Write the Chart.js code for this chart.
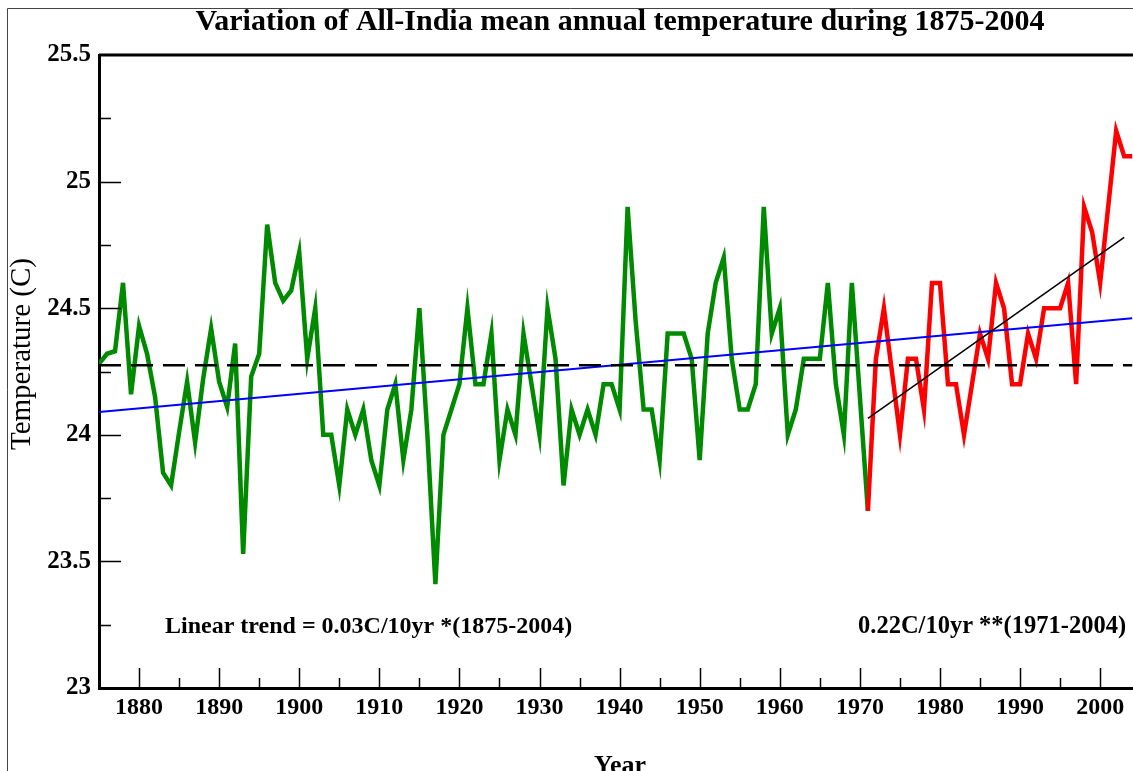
<!DOCTYPE html>
<html>
<head>
<meta charset="utf-8">
<script src="https://cdn.jsdelivr.net/npm/chart.js@4"></script>
<style>
  html, body { margin: 0; padding: 0; background: #fff; }
  canvas { display: block; }
</style>
</head>
<body>
<canvas id="tempChart" width="1133" height="771"></canvas>
<script>
// all-India mean annual temperature (C)
const firstYear = 1875;
const tempsEarly = [
  24.28, 24.32, 24.33, 24.60, 24.16, 24.43, 24.32, 24.15, 23.85, 23.80,
  24.01, 24.21, 23.97, 24.22, 24.42, 24.21, 24.11, 24.36, 23.53, 24.23,
  24.32, 24.83, 24.60, 24.53, 24.57, 24.72, 24.30, 24.50, 24.00, 24.00,
  23.80, 24.10, 24.00, 24.10, 23.90, 23.80, 24.10, 24.20, 23.90, 24.10,
  24.50, 24.00, 23.41, 24.00, 24.10, 24.20, 24.50, 24.20, 24.20, 24.40,
  23.90, 24.10, 24.00, 24.40, 24.20, 24.00, 24.50, 24.30, 23.80, 24.10,
  24.00, 24.10, 24.00, 24.20, 24.20, 24.10, 24.90, 24.45, 24.10, 24.10,
  23.90, 24.40, 24.40, 24.40, 24.30, 23.90, 24.40, 24.60, 24.70, 24.30,
  24.10, 24.10, 24.20, 24.90, 24.40, 24.50, 24.00, 24.10, 24.30, 24.30,
  24.30, 24.60, 24.20, 24.00, 24.60, 24.15, 23.70
]; // 1875-1971

const recentStart = 1971;
const tempsRecent = [
  23.70, 24.30, 24.50, 24.25, 24.00, 24.30, 24.30, 24.10, 24.60, 24.60,
  24.20, 24.20, 24.00, 24.20, 24.40, 24.30, 24.60, 24.50, 24.20, 24.20,
  24.40, 24.30, 24.50, 24.50, 24.50, 24.60, 24.20, 24.90, 24.80, 24.60,
  24.90, 25.20, 25.10, 25.10
]; // 1971-2004

const longTrendYears = [1875, 2004];
const longTrend = [24.09, 24.46];
const recentTrendYears = [1971, 2003];
const recentTrend = [24.065, 24.78];
const meanYears = [1875, 2004];
const meanTemp = 24.275;

const xTickYears = [1880, 1890, 1900, 1910, 1920, 1930, 1940, 1950, 1960, 1970, 1980, 1990, 2000];
const yTickValues = [23, 23.5, 24, 24.5, 25, 25.5];
const xMinorStep = 5;
const yMinorStep = 0.25;

const toPoints = (start, vals) => vals.map((v, i) => ({ x: start + i, y: v }));
const pairPoints = (xs, ys) => xs.map((x, i) => ({ x: x, y: ys[i] }));

const serif = "'Liberation Serif', 'DejaVu Serif', serif";

const decorations = {
  id: 'decorations',
  afterDatasetsDraw(chart) {
    const { ctx, chartArea: a, scales: { x, y } } = chart;
    ctx.save();
    ctx.strokeStyle = '#000';
    // inward tick marks
    ctx.lineWidth = 1.5;
    ctx.beginPath();
    for (let v = 1880; v <= 2000; v += xMinorStep) {
      const px = Math.round(x.getPixelForValue(v)) + 0.5;
      const len = v % 10 === 0 ? 20 : 10;
      ctx.moveTo(px, a.bottom);
      ctx.lineTo(px, a.bottom - len);
    }
    for (let v = 23 + yMinorStep; v < 25.5; v += yMinorStep) {
      const py = Math.round(y.getPixelForValue(v)) + 0.5;
      const len = Math.abs(v * 2 - Math.round(v * 2)) < 1e-6 ? 22 : 12;
      ctx.moveTo(a.left, py);
      ctx.lineTo(a.left + len, py);
    }
    ctx.stroke();
    // top frame of plot
    ctx.lineWidth = 3;
    ctx.beginPath();
    ctx.moveTo(a.left, a.top);
    ctx.lineTo(a.right, a.top);
    ctx.stroke();
    ctx.restore();
  },
  afterDraw(chart) {
    const { ctx } = chart;
    ctx.save();
    // outer picture border
    ctx.strokeStyle = '#444';
    ctx.lineWidth = 1;
    ctx.beginPath();
    ctx.moveTo(7.5, 771);
    ctx.lineTo(7.5, 8.5);
    ctx.lineTo(1133, 8.5);
    ctx.stroke();

    ctx.fillStyle = '#000';
    ctx.textBaseline = 'middle';
    ctx.textAlign = 'center';
    ctx.font = 'bold 30px ' + serif;
    ctx.fillText('Variation of All-India mean annual temperature during 1875-2004', 620, 22);

    ctx.textAlign = 'left';
    ctx.font = 'bold 24px ' + serif;
    ctx.fillText('Linear trend = 0.03C/10yr *(1875-2004)', 165, 627);
    ctx.font = 'bold 24.5px ' + serif;
    ctx.fillText('0.22C/10yr **(1971-2004)', 858, 627);

    ctx.textAlign = 'center';
    ctx.textBaseline = 'top';
    ctx.font = 'bold 26px ' + serif;
    ctx.fillText('Year', 620, 753);

    ctx.translate(22, 354);
    ctx.rotate(-Math.PI / 2);
    ctx.textBaseline = 'middle';
    ctx.font = '29px ' + serif;
    ctx.fillText('Temperature (C)', 0, 0);
    ctx.restore();
  }
};

new Chart(document.getElementById('tempChart'), {
  type: 'line',
  data: {
    datasets: [
      {
        label: '1971-2004 trend',
        data: pairPoints(recentTrendYears, recentTrend),
        borderColor: '#000',
        borderWidth: 1.5,
        pointRadius: 0,
        order: 0
      },
      {
        label: 'Mean',
        data: pairPoints(meanYears, [meanTemp, meanTemp]),
        borderColor: '#000',
        borderWidth: 2.5,
        borderDash: [22, 10],
        pointRadius: 0,
        order: 1
      },
      {
        label: '1875-2004 trend',
        data: pairPoints(longTrendYears, longTrend),
        borderColor: '#0000ff',
        borderWidth: 2,
        pointRadius: 0,
        order: 2
      },
      {
        label: '1971-2004',
        data: toPoints(recentStart, tempsRecent),
        borderColor: '#ff0000',
        borderWidth: 4.5,
        pointRadius: 0,
        tension: 0,
        order: 3
      },
      {
        label: '1875-1971',
        data: toPoints(firstYear, tempsEarly),
        borderColor: '#008a00',
        borderWidth: 4.5,
        pointRadius: 0,
        tension: 0,
        order: 4
      }
    ]
  },
  options: {
    responsive: false,
    animation: false,
    devicePixelRatio: 1,
    layout: { padding: { top: 55, left: 0, right: 0, bottom: 0 } },
    plugins: {
      legend: { display: false },
      tooltip: { enabled: false },
      title: { display: false }
    },
    scales: {
      x: {
        type: 'linear',
        min: 1875,
        max: 2004.1,
        grid: { display: false },
        border: { display: true, color: '#000', width: 3 },
        afterBuildTicks: s => { s.ticks = xTickYears.map(v => ({ value: v })); },
        afterFit: s => { s.height = 83; },
        ticks: {
          autoSkip: false,
          maxRotation: 0,
          padding: -3,
          color: '#000',
          font: { family: serif, size: 24, weight: 'bold' },
          callback: v => String(v)
        }
      },
      y: {
        min: 23,
        max: 25.5,
        grid: { display: false },
        border: { display: true, color: '#000', width: 3 },
        afterBuildTicks: s => { s.ticks = yTickValues.map(v => ({ value: v })); },
        afterFit: s => { s.width = 99; },
        ticks: {
          padding: 0,
          color: '#000',
          font: { family: serif, size: 25, weight: 'bold' },
          callback: v => String(v)
        }
      }
    }
  },
  plugins: [decorations]
});
</script>
</body>
</html>
